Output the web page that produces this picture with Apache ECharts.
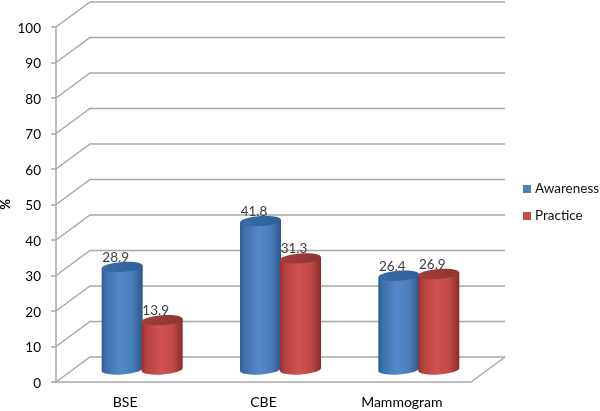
<!DOCTYPE html>
<html><head><meta charset="utf-8">
<style>html,body{margin:0;padding:0;background:#fff}#c{width:600px;height:411px}</style>
<script src="https://cdn.jsdelivr.net/npm/echarts@6/dist/echarts.min.js"></script>
</head><body><div id="c"></div>
<script>
const categories = ['BSE', 'CBE', 'Mammogram'];
const awareness = [28.9, 41.8, 26.4];
const practice = [13.9, 31.3, 26.9];
const gridTicks = [0, 10, 20, 30, 40, 50, 60, 70, 80, 90, 100];

const FONT = 'Lato, "Open Sans", sans-serif';
const DX = 34, DY = 25, RX = 20.5, RY = 5, TILT = 4 * Math.PI / 180;
const LINE = '#a8a8a8';

function wallItem(params, api) {
  const v = api.value(0);
  const cs = params.coordSys;
  const y = api.coord([0, v])[1];
  const x0 = cs.x, x1 = cs.x + cs.width;
  const children = [{
    type: 'polyline',
    shape: { points: [[x0, y], [x0 + DX, y - DY], [x1 + DX, y - DY]] },
    style: { stroke: LINE, lineWidth: 1.5, fill: null }
  }];
  if (v === 0) {
    children.push({
      type: 'polyline',
      shape: { points: [[x1, y], [x1 + DX, y - DY]] },
      style: { stroke: LINE, lineWidth: 1.5, fill: null }
    });
  }
  return { type: 'group', children };
}

function cylinder(side, stops, topStops) {
  return function (params, api) {
    const cat = api.value(0), val = api.value(1);
    const base = api.coord([cat, 0]);
    const top = api.coord([cat, val]);
    const cx = base[0] + DX / 2 + side * 20;
    const yb = base[1] - DY / 2, yt = top[1] - DY / 2;
    const l = cx - RX, r = cx + RX;
    const t = RX * Math.sin(TILT);
    const z = side < 0 ? 10 : 20;
    return {
      type: 'group',
      children: [
        {
          type: 'text', z2: 1,
          style: {
            text: String(val), x: cx - 6.5, y: yt - 9.5,
            align: 'center', verticalAlign: 'middle',
            fill: '#404040', font: '13.5px ' + FONT
          }
        },
        {
          type: 'path', z2: z,
          shape: { pathData: `M${l} ${yt + t}L${l} ${yb + t}A${RX} ${RY} -4 0 0 ${r} ${yb - t}L${r} ${yt - t}Z` },
          style: {
            fill: {
              type: 'linear', x: 0, y: 0, x2: 1, y2: 0,
              colorStops: stops
            }
          }
        },
        {
          type: 'ellipse', z2: z + 1,
          shape: { cx: 0, cy: 0, rx: RX, ry: RY },
          x: cx, y: yt, rotation: TILT,
          style: {
            fill: {
              type: 'linear', x: 0, y: 0, x2: 1, y2: 0,
              colorStops: topStops
            }
          }
        }
      ]
    };
  };
}

const blueStops = [
  { offset: 0, color: '#2f5d95' }, { offset: 0.12, color: '#3f70ab' },
  { offset: 0.45, color: '#5389cb' }, { offset: 0.75, color: '#4a7dba' },
  { offset: 1, color: '#2b5689' }
];
const redStops = [
  { offset: 0, color: '#9a302e' }, { offset: 0.12, color: '#b54240' },
  { offset: 0.45, color: '#cf5351' }, { offset: 0.75, color: '#c04a47' },
  { offset: 1, color: '#8a2c2a' }
];
const blueTop = [{ offset: 0, color: '#3a6da8' }, { offset: 1, color: '#2d5f97' }];
const redTop = [{ offset: 0, color: '#a33d3a' }, { offset: 1, color: '#8e3533' }];

const chart = echarts.init(document.getElementById('c'), null, { renderer: 'canvas' });
chart.setOption({
  animation: false,
  backgroundColor: '#fff',
  grid: { left: 56, right: 129, top: 27, bottom: 29, outerBoundsMode: 'none' },
  legend: {
    data: ['Awareness', 'Practice'],
    orient: 'vertical', left: 523, top: 182, padding: 0, itemWidth: 8, itemHeight: 8, itemGap: 13,
    icon: 'rect',
    textStyle: { fontFamily: FONT, fontSize: 13.5, color: '#111', padding: [0, 0, 0, -1] }
  },
  xAxis: {
    type: 'category', data: categories,
    axisLine: { lineStyle: { color: LINE, width: 1.5 } },
    axisTick: { show: false },
    axisLabel: { fontFamily: FONT, fontSize: 14, color: '#000', margin: 13 }
  },
  yAxis: {
    type: 'value', min: 0, max: 100, interval: 10,
    name: '%', nameLocation: 'middle', nameRotate: 90, nameGap: 44, nameMoveOverlap: false,
    nameTextStyle: { fontFamily: FONT, fontSize: 13, fontWeight: 'bold', color: '#000' },
    axisLine: { show: true, lineStyle: { color: LINE, width: 1.5 } },
    axisTick: { show: true, length: 5, lineStyle: { color: LINE, width: 1.5 } },
    axisLabel: { fontFamily: FONT, fontSize: 13.5, color: '#000', margin: 15, verticalAlign: 'top', lineHeight: 3 },
    splitLine: { show: false }
  },
  series: [
    { type: 'custom', name: 'walls', silent: true, z: 1, data: gridTicks.map(v => [v]),
      encode: { y: 0 }, renderItem: wallItem, clip: false },
    { type: 'custom', name: 'Awareness', z: 3, itemStyle: { color: '#4f81bd' },
      data: awareness.map((v, i) => [i, v]), encode: { x: 0, y: 1 },
      renderItem: cylinder(-1, blueStops, blueTop), clip: false },
    { type: 'custom', name: 'Practice', z: 4, itemStyle: { color: '#c0504d' },
      data: practice.map((v, i) => [i, v]), encode: { x: 0, y: 1 },
      renderItem: cylinder(1, redStops, redTop), clip: false }
  ]
});
</script></body></html>
